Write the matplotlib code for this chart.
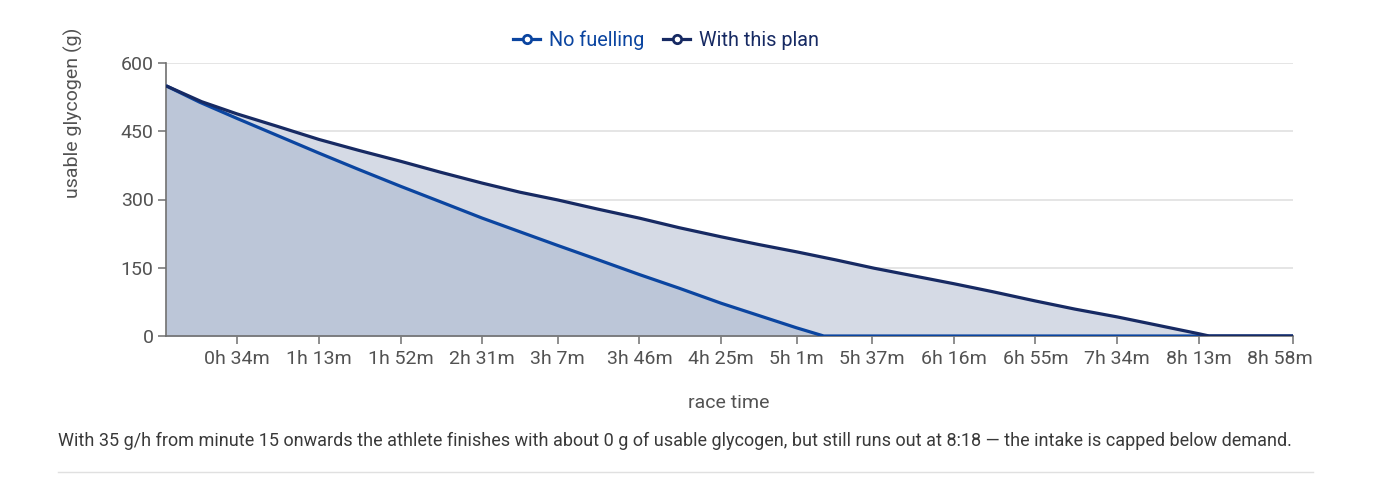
import matplotlib
matplotlib.use("Agg")
import matplotlib.pyplot as plt
import matplotlib.transforms as mtransforms
from matplotlib.lines import Line2D

# ---- data (minutes of race time, grams of usable glycogen) ----
t_nofuel = [0, 16, 34, 53, 73, 92, 112, 131, 151, 169, 187, 206, 226, 245, 265, 283, 301, 314, 338, 538]
g_nofuel = [550, 514, 478, 441, 402, 366, 329, 295, 259, 229, 199, 168, 135, 105, 72, 45, 18, 0, 0, 0]

t_plan = [0, 17, 34, 53, 73, 92, 112, 131, 151, 169, 187, 206, 226, 245, 265, 283, 301, 320, 338,
          357, 376, 395, 415, 434, 454, 473, 493, 498, 538]
g_plan = [550, 515, 488, 461, 432, 408, 384, 360, 336, 316, 299, 279, 259, 238, 218, 201, 185, 167, 149,
          132, 115, 97, 77, 59, 42, 24, 5, 0, 0]

x_ticks = [34, 73, 112, 151, 187, 226, 265, 301, 337, 376, 415, 454, 493, 538]
x_ticklabels = ["0h 34m", "1h 13m", "1h 52m", "2h 31m", "3h 7m", "3h 46m", "4h 25m", "5h 1m",
                "5h 37m", "6h 16m", "6h 55m", "7h 34m", "8h 13m", "8h 58m"]
y_ticks = [0, 150, 300, 450, 600]

series_names = ["No fuelling", "With this plan"]
caption = ("With 35 g/h from minute 15 onwards the athlete finishes with about 0 g of usable glycogen, "
           "but still runs out at 8:18 \u2014 the intake is capped below demand.")

# ---- style ----
plt.rcParams['font.family'] = ['Roboto', 'DejaVu Sans']
c_nofuel = "#0b45a0"
c_plan = "#172a63"
txt = "#525252"
W, H = 1376, 480

fig = plt.figure(figsize=(W / 100, H / 100), dpi=100)
ax = fig.add_axes([166 / W, 1 - 336 / H, (1293 - 166) / W, (336 - 63) / H])

ax.fill_between(t_plan, g_plan, 0, color="#d5dae5", lw=0, zorder=1)
ax.fill_between(t_nofuel, g_nofuel, 0, color="#bcc6d8", lw=0, zorder=1.5)
ax.plot(t_nofuel, g_nofuel, color=c_nofuel, lw=2.3, zorder=3, solid_capstyle='butt')
ax.plot(t_plan, g_plan, color=c_plan, lw=2.3, zorder=4, solid_capstyle='butt')

ax.set_xlim(0, 538)
ax.set_ylim(0, 600)
ax.set_xticks(x_ticks)
ax.set_xticklabels(x_ticklabels)
ax.set_yticks(y_ticks)
ax.grid(axis='y', color="#e0e0e0", lw=1.2, zorder=0)
ax.set_axisbelow(True)
for s in ["top", "right"]:
    ax.spines[s].set_visible(False)
for s in ["left", "bottom"]:
    ax.spines[s].set_color("#6f6f6f")
    ax.spines[s].set_linewidth(1.2)
ax.tick_params(axis='both', colors="#6f6f6f", labelcolor=txt, labelsize=14, length=6, width=1.1)
ax.tick_params(axis='x', pad=4)
ax.tick_params(axis='y', pad=3)

# last x label is pulled inward so it stays inside the plot width
last = ax.get_xticklabels()[-1]
last.set_transform(last.get_transform() + mtransforms.ScaledTranslation(-13 / 100, 0, fig.dpi_scale_trans))

fig.text(729 / W, 1 - 403 / H, "race time", ha='center', va='center', fontsize=14, color=txt)
fig.text(73 / W, 1 - 113 / H, "usable glycogen (g)", ha='center', va='center', rotation=90,
         fontsize=14, color=txt)

handles = [Line2D([], [], color=c, lw=2.3, marker='o', markersize=6, markerfacecolor='white',
                  markeredgewidth=2, markeredgecolor=c) for c in (c_nofuel, c_plan)]
leg = fig.legend(handles, series_names, loc='center', bbox_to_anchor=(666 / W, 1 - 40 / H),
                 ncol=2, frameon=False, fontsize=14.3, handlelength=1.4, handletextpad=0.45,
                 columnspacing=0.9, labelcolor=[c_nofuel, c_plan])

fig.text(58 / W, 1 - 441 / H, caption, ha='left', va='center', fontsize=13, color="#393939")
fig.add_artist(Line2D([58 / W, 1313 / W], [1 - 472 / H, 1 - 472 / H], color="#e0e0e0", lw=1))

fig.savefig("out.png", dpi=100)
